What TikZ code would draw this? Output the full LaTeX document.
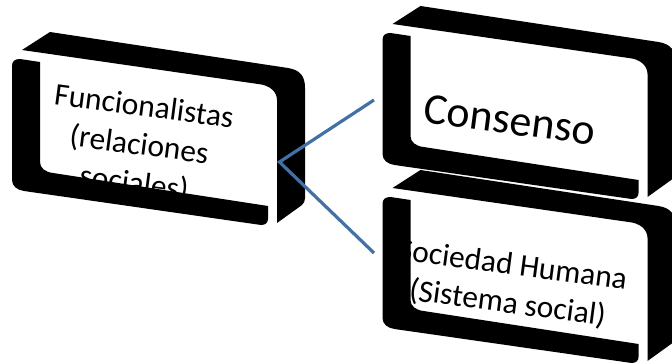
\documentclass[tikz,border=0pt]{standalone}
\usepackage{fontspec}
\setmainfont{Carlito}
\definecolor{connblue}{RGB}{66,113,166}
\begin{document}
\begin{tikzpicture}[x=1pt,y=-1pt,
  slabtext/.style={align=center, rotate=-7.5, inner sep=0pt, text=black, font=\fontsize{31.5}{38.5}\selectfont},
  bigtext/.style={rotate=-7.5, inner sep=0pt, text=black, font=\fontsize{44}{50}\selectfont},
  conn/.style={draw=connblue, line width=3.2pt, line join=miter},
  slab/.pic={
    % back band (top edge + right side)
    \fill[black] (22,50) -- (50,32) -- (288,68)
      .. controls (300,70) and (305,76) .. (305,88) -- (305,198)
      .. controls (305,201) and (304,203) .. (302,205) -- (277,223) -- (277,100)
      .. controls (277,92) and (270,85) .. (258,84) -- cycle;
    % front frame (left side + bottom)
    \fill[black] (40,62) -- (40,162) .. controls (40,168) and (45,172) .. (53,173)
      -- (268,206) -- (268,219) .. controls (268,223) and (265,225) .. (261,225)
      -- (24,191) .. controls (17,190) and (12,186) .. (12,180) -- (12,66)
      .. controls (12,61) and (15,59) .. (20,59) -- cycle;
  }]
\clip (0,0) rectangle (672,363);
\fill[white] (0,0) rectangle (672,363);

% texts (drawn first, partly hidden by the frames as in the reference)
\node[slabtext] (t1) at (139,146) {Funcionalistas\\(relaciones\\sociales)};
\node[bigtext] (t2) at (510,120) {Consenso};
\node[slabtext] (t3) at (510,285) {Sociedad Humana\\(Sistema social)};

% boxes
\pic at (0,0) {slab};
\pic at (370.5,-26) {slab};
\pic at (370.5,138) {slab};

% connectors
\coordinate (hub) at (279.5,162);
\coordinate (e2) at (374,100);
\coordinate (e3) at (374,253);
\draw[conn] (e2) -- (hub) -- (e3);
\end{tikzpicture}
\end{document}
